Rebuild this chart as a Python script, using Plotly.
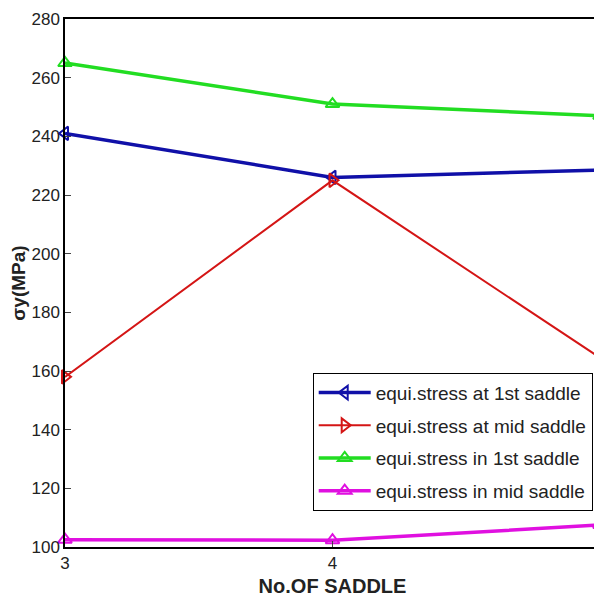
import plotly.graph_objects as go

# number of saddles
saddles = [3, 4, 5]

# equivalent stress sigma-y (MPa)
at_first = [241, 226, 228.5]
at_mid = [158, 225, 164.5]
in_first = [265, 251, 247]
in_mid = [102.5, 102.3, 107.5]

names = ['equi.stress at 1st saddle', 'equi.stress at mid saddle',
         'equi.stress in 1st saddle', 'equi.stress in mid saddle']

font_main = 'Liberation Sans, Arial'

fig = go.Figure()

series = [
    (at_first, '#1010a8', 'triangle-left-open', 3.5),
    (at_mid, '#d41515', 'triangle-right-open', 2),
    (in_first, '#22dd22', 'triangle-up-open', 3.5),
    (in_mid, '#e010e0', 'triangle-up-open', 3.5),
]
for i, ((vals, color, symbol, w), name) in enumerate(zip(series, names)):
    fig.add_trace(go.Scatter(
        x=saddles, y=vals, name=name, mode='lines+markers',
        legendgroup=f'g{i}',
        line=dict(color=color, width=w),
        marker=dict(symbol=symbol, size=12, color=color, line=dict(width=2, color=color)),
        cliponaxis=False,
    ))

fig.update_xaxes(
    range=[3, 5], tickvals=saddles, ticks='inside', ticklen=6,
    showline=True, linecolor='black', linewidth=1.5, mirror=True,
    showgrid=False, zeroline=False, automargin=False,
    ticklabeloverflow='allow',
    tickfont=dict(size=17, family=font_main, color='#222'),
    title=dict(text='<b>No.OF SADDLE</b>', font=dict(size=20, family=font_main, color='#222'), standoff=7),
)
fig.update_yaxes(
    range=[100, 280], dtick=20, ticks='inside', ticklen=6,
    showline=True, linecolor='black', linewidth=1.5, mirror=True,
    showgrid=False, zeroline=False, automargin=False,
    tickfont=dict(size=17, family=font_main, color='#222'),
    title=dict(text='<b>σy(MPa)</b>', font=dict(size=19, family=font_main, color='#222'), standoff=12),
)

# page body adds an 8px offset, so the figure is 594 px to fill the 602 px window
fig.update_layout(
    width=594, height=594,
    margin=dict(l=57, r=2, t=11, b=55),
    plot_bgcolor='white', paper_bgcolor='white',
    showlegend=True,
    legend=dict(
        x=0.463, y=0.33, xanchor='left', yanchor='top',
        bgcolor='white', bordercolor='black', borderwidth=1,
        font=dict(size=19, family=font_main, color='#222'),
        tracegroupgap=5, itemwidth=52,
    ),
)

fig.write_html('out.html')
